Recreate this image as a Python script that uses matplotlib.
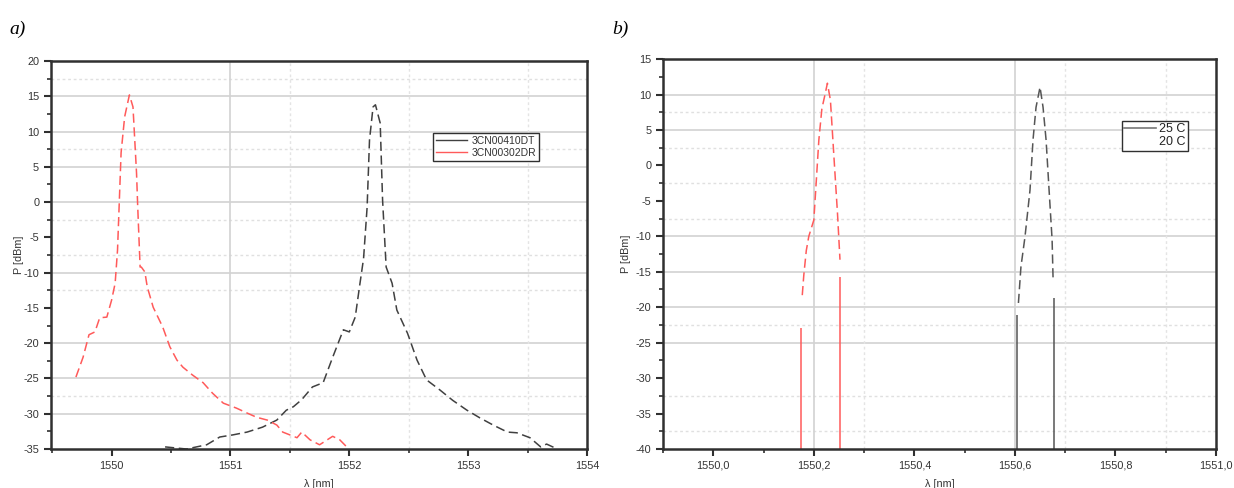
import matplotlib
matplotlib.use("Agg")
import matplotlib.pyplot as plt
from matplotlib.ticker import MultipleLocator, FuncFormatter
from matplotlib.lines import Line2D

plt.rcParams['font.family'] = ['Liberation Sans', 'DejaVu Sans']
plt.rcParams['axes.unicode_minus'] = False

# a) widmo dwoch laserow
a_black_x = [1550.45, 1550.63, 1550.80, 1550.91, 1551.02, 1551.14, 1551.27, 1551.39, 1551.47,
             1551.53, 1551.60, 1551.69, 1551.78, 1551.86, 1551.95, 1552.00, 1552.05, 1552.09,
             1552.12, 1552.15, 1552.17, 1552.20, 1552.22, 1552.26, 1552.28, 1552.31, 1552.36,
             1552.40, 1552.49, 1552.57, 1552.65, 1552.76, 1552.87, 1552.99, 1553.10, 1553.21,
             1553.33, 1553.41, 1553.52, 1553.61, 1553.66, 1553.75]
a_black_y = [-34.7, -35.0, -34.4, -33.3, -33.0, -32.6, -31.9, -30.9, -29.5,
             -29.0, -28.0, -26.2, -25.6, -22.0, -18.1, -18.4, -16.3, -11.5,
             -8.0, -0.7, 8.8, 13.5, 13.8, 11.2, 0.3, -9.2, -11.5,
             -15.3, -18.6, -22.4, -25.2, -26.6, -28.1, -29.5, -30.6, -31.6,
             -32.6, -32.7, -33.4, -34.7, -34.3, -35.0]

a_red_x = [1549.70, 1549.76, 1549.81, 1549.86, 1549.90, 1549.96, 1550.00, 1550.03, 1550.05,
           1550.08, 1550.11, 1550.15, 1550.18, 1550.21, 1550.22, 1550.24, 1550.25, 1550.28,
           1550.30, 1550.35, 1550.39, 1550.43, 1550.49, 1550.55, 1550.60, 1550.68, 1550.77,
           1550.85, 1550.94, 1551.05, 1551.14, 1551.22, 1551.31, 1551.39, 1551.44, 1551.50,
           1551.56, 1551.60, 1551.67, 1551.75, 1551.86, 1551.92, 1551.99]
a_red_y = [-24.8, -22.0, -18.8, -18.4, -16.4, -16.3, -13.9, -11.5, -6.8,
           7.0, 12.1, 15.2, 13.5, 4.1, -0.7, -9.2, -9.2, -9.9,
           -12.0, -14.9, -16.3, -17.7, -20.5, -22.4, -23.4, -24.5, -25.6,
           -27.1, -28.5, -29.2, -29.9, -30.5, -30.9, -31.6, -32.6, -33.0,
           -33.4, -32.6, -33.7, -34.4, -33.2, -33.7, -34.9]
a_labels = ['3CN00410DT', '3CN00302DR']

# b) widmo lasera w dwoch temperaturach
b_black_x = [1550.607, 1550.612, 1550.620, 1550.630, 1550.636, 1550.642, 1550.650,
             1550.656, 1550.662, 1550.668, 1550.674, 1550.676]
b_black_y = [-19.4, -14.3, -10.1, -3.5, 3.6, 8.2, 11.05,
             8.2, 3.6, -3.5, -10.5, -16.2]
b_black_edge_x = [1550.604, 1550.678]
b_black_edge_top = [-21.1, -18.7]

b_red_x = [1550.177, 1550.180, 1550.185, 1550.190, 1550.200, 1550.210, 1550.216,
           1550.221, 1550.227, 1550.233, 1550.240, 1550.247, 1550.252]
b_red_y = [-18.3, -15.5, -12.0, -10.0, -7.7, 3.6, 8.0,
           9.6, 11.6, 9.2, 1.2, -6.7, -13.3]
b_red_edge_x = [1550.175, 1550.253]
b_red_edge_top = [-23.0, -15.7]
b_labels = ['25 C', '20 C']

txt = '#333333'
red = '#ff5a5a'


def style(ax, xmaj, xmin, ylo, yhi, hsolid, hdot, vsolid, vdot):
    ax.set_ylim(ylo, yhi)
    ax.xaxis.set_major_locator(MultipleLocator(xmaj))
    ax.xaxis.set_minor_locator(MultipleLocator(xmin))
    ax.yaxis.set_major_locator(MultipleLocator(5))
    ax.yaxis.set_minor_locator(MultipleLocator(2.5))
    # siatka jak w oryginale (nieregularna)
    for v in hsolid:
        ax.axhline(v, color='#d2d2d2', lw=1.2, zorder=0)
    for v in hdot:
        ax.axhline(v, color='#e0e0e0', lw=1.0, ls=(0, (2, 2)), zorder=0)
    for v in vsolid:
        ax.axvline(v, color='#d2d2d2', lw=1.2, zorder=0)
    for v in vdot:
        ax.axvline(v, color='#e4e4e4', lw=1.0, ls=(0, (2, 2)), zorder=0)
    for s in ax.spines.values():
        s.set_linewidth(1.8)
        s.set_color('#303030')
    ax.tick_params(which='major', direction='out', length=5, width=1.5,
                   labelsize=7.8, labelcolor=txt, color='#303030')
    ax.tick_params(which='minor', direction='out', length=3, width=1.2, color='#303030')
    ax.set_ylabel('P [dBm]', fontsize=7.8, color=txt)
    ax.set_xlabel('λ [nm]', fontsize=7.8, color=txt, labelpad=6)


fig = plt.figure(figsize=(12.34, 4.88), dpi=100)

# panel a
ax1 = fig.add_axes([0.0413, 0.0799, 0.4344, 0.795])
ax1.plot(a_black_x, a_black_y, color='#404040', lw=1.1, dashes=(6, 3))
ax1.plot(a_red_x, a_red_y, color=red, lw=1.1, dashes=(6, 3))
ax1.set_xlim(1549.49, 1554)
style(ax1, 1, 0.5, -35, 20,
      [15, 10, 5, 0, -10, -20, -25, -30], [17.5, 7.5, -2.5, -7.5, -12.5, -27.5],
      [1551], [1551.5, 1552.5, 1553.5])
ax1.yaxis.set_label_coords(-0.051, 0.5)
ax1.xaxis.set_major_formatter(FuncFormatter(lambda v, p: '%d' % round(v)))
h1 = [Line2D([], [], color='#404040', lw=1.0), Line2D([], [], color=red, lw=1.0)]
ax1.legend(h1, a_labels, loc='upper left', bbox_to_anchor=(0.712, 0.815), fontsize=7.5,
           frameon=True, fancybox=False, edgecolor='#303030', handlelength=3,
           borderpad=0.3, labelspacing=0.2, handletextpad=0.4, borderaxespad=0,
           labelcolor=txt, framealpha=1)
fig.text(0.008, 0.93, 'a)', fontsize=14, style='italic', family='Liberation Serif')

# panel b
ax2 = fig.add_axes([0.5373, 0.0799, 0.4481, 0.799])
ax2.plot(b_black_x, b_black_y, color='#555555', lw=1.1, dashes=(6, 3))
ax2.vlines(b_black_edge_x, -40, b_black_edge_top, color='#555555', lw=1.1)
ax2.plot(b_red_x, b_red_y, color=red, lw=1.1, dashes=(6, 3))
ax2.vlines(b_red_edge_x, -40, b_red_edge_top, color=red, lw=1.1)
ax2.set_xlim(1549.9, 1551.0)
style(ax2, 0.2, 0.1, -40, 15,
      [10, 5, -10, -15, -20, -25], [7.5, 2.5, -2.5, -7.5, -22.5, -32.5, -37.5],
      [1550.2, 1550.6], [1550.3, 1550.7, 1550.9])
ax2.yaxis.set_label_coords(-0.058, 0.5)
ax2.xaxis.set_major_formatter(FuncFormatter(lambda v, p: ('%.1f' % v).replace('.', ',')))
h2 = [Line2D([], [], color='#777777', lw=1.2), Line2D([], [], color='none', lw=1.0)]
ax2.legend(h2, b_labels, loc='upper left', bbox_to_anchor=(0.830, 0.842), fontsize=9,
           frameon=True, fancybox=False, edgecolor='#303030', handlelength=2.5,
           borderpad=0.2, labelspacing=0.1, handletextpad=0.3, borderaxespad=0,
           labelcolor='#222222', framealpha=1)
fig.text(0.496, 0.93, 'b)', fontsize=14, style='italic', family='Liberation Serif')

fig.savefig('out.png', dpi=100)
